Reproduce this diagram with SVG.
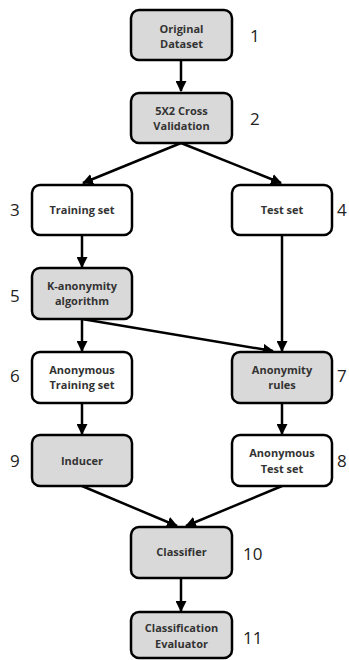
<svg xmlns="http://www.w3.org/2000/svg" width="349" height="660" viewBox="0 0 349 660">
<style>
.box{stroke:#000;stroke-width:2.5}
.g{fill:#d9d9d9}
.w{fill:#fff}
.t{font-family:"Open Sans","Liberation Sans",sans-serif;font-weight:700;font-size:11px;fill:#333;text-anchor:middle}
.n{font-family:"Open Sans","Liberation Sans",sans-serif;font-size:17px;fill:#222}
.c{stroke:#000;stroke-width:2.5;fill:none;marker-end:url(#a)}
</style>
<defs>
<marker id="a" viewBox="0 0 10 10" refX="9" refY="5" markerWidth="4.4" markerHeight="4.4" markerUnits="strokeWidth" orient="auto">
<path d="M0,0 L10,5 L0,10 z" fill="#000"/>
</marker>
</defs>
<rect width="349" height="660" fill="#fff"/>
<g id="connectors">
<line class="c" x1="181" y1="60" x2="181" y2="91"/>
<line class="c" x1="181" y1="143" x2="83" y2="183"/>
<line class="c" x1="181" y1="143" x2="281" y2="183"/>
<line class="c" x1="82" y1="235" x2="82" y2="267"/>
<line class="c" x1="282" y1="235" x2="282" y2="351"/>
<line class="c" x1="82" y1="319" x2="273" y2="351"/>
<line class="c" x1="82" y1="319" x2="82" y2="351"/>
<line class="c" x1="82" y1="403" x2="82" y2="434"/>
<line class="c" x1="282" y1="403" x2="282" y2="434"/>
<line class="c" x1="82" y1="486" x2="177" y2="526"/>
<line class="c" x1="282" y1="486" x2="186" y2="526"/>
<line class="c" x1="181" y1="578" x2="181" y2="611"/>
</g>
<g id="n1"><rect class="box g" x="131" y="10" width="101" height="50" rx="8"/><text class="t" x="181.5" y="32.5">Original</text><text class="t" x="181.5" y="47.5">Dataset</text><text class="n" x="250" y="42">1</text></g>
<g id="n2"><rect class="box g" x="131" y="93" width="101" height="50" rx="8"/><text class="t" x="181.5" y="114.5">5X2 Cross</text><text class="t" x="181.5" y="130">Validation</text><text class="n" x="250" y="125">2</text></g>
<g id="n3"><rect class="box w" x="32" y="185" width="100" height="50" rx="8"/><text class="t" x="82" y="214">Training set</text><text class="n" x="10" y="216">3</text></g>
<g id="n4"><rect class="box w" x="232" y="185" width="100" height="50" rx="8"/><text class="t" x="282" y="214">Test set</text><text class="n" x="337" y="216">4</text></g>
<g id="n5"><rect class="box g" x="32" y="268" width="100" height="51" rx="8"/><text class="t" x="82" y="289.5">K-anonymity</text><text class="t" x="82" y="305">algorithm</text><text class="n" x="10" y="302">5</text></g>
<g id="n6"><rect class="box w" x="32" y="352" width="100" height="51" rx="8"/><text class="t" x="82" y="373.5">Anonymous</text><text class="t" x="82" y="389">Training set</text><text class="n" x="10" y="382">6</text></g>
<g id="n7"><rect class="box g" x="232" y="352" width="100" height="51" rx="8"/><text class="t" x="282" y="373.5">Anonymity</text><text class="t" x="282" y="389">rules</text><text class="n" x="337" y="382">7</text></g>
<g id="n9"><rect class="box g" x="32" y="435" width="100" height="51" rx="8"/><text class="t" x="82" y="465">Inducer</text><text class="n" x="10" y="467">9</text></g>
<g id="n8"><rect class="box w" x="232" y="435" width="100" height="51" rx="8"/><text class="t" x="282" y="457">Anonymous</text><text class="t" x="282" y="472.5">Test set</text><text class="n" x="337" y="467">8</text></g>
<g id="n10"><rect class="box g" x="131" y="527" width="101" height="51" rx="8"/><text class="t" x="181.5" y="556">Classifier</text><text class="n" x="243" y="560">10</text></g>
<g id="n11"><rect class="box g" x="131" y="612" width="101" height="46" rx="8"/><text class="t" x="181.5" y="632">Classification</text><text class="t" x="181.5" y="648">Evaluator</text><text class="n" x="243" y="644">11</text></g>
</svg>
